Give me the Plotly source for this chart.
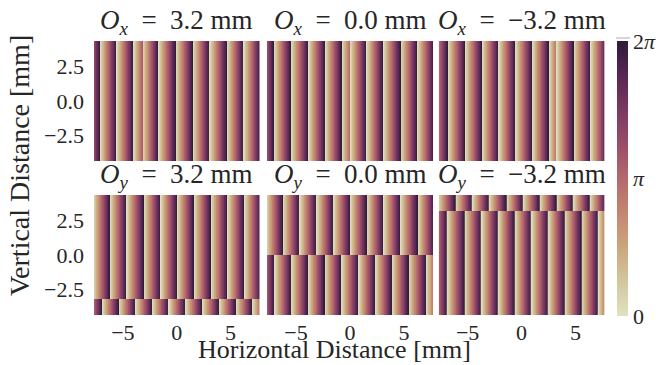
import numpy as np
import plotly.graph_objects as go

# ---------------- data ----------------
x_extent = [-7.68, 7.68]          # mm
y_extent = [-4.32, 4.32]          # mm
offsets = [3.2, 0.0, -3.2]        # O_x (top row) and O_y (bottom row), mm
offset_text = ["3.2", "0.0", "\u22123.2"]

# positions (mm) where the phase wraps 2pi -> 0 (cream stripe starts)
# top row: regions left / right of the split at x = -O_x
wraps_ox_p32_left = [-8.68, -7.12, -5.61, -4.06, -2.51]
wraps_ox_p32_right = [-3.2, -1.74, -0.13, 1.45, 3.00, 4.61, 6.15, 7.71]
wraps_ox_0_left = [-8.61, -7.06, -5.48, -3.87, -2.32, -0.78, 0.77]
wraps_ox_0_right = [0.0, 1.51, 3.06, 4.67, 6.22, 7.77]
wraps_ox_m32_left = [-8.40, -6.84, -5.24, -3.69, -2.15, -0.60, 0.96, 2.50, 4.05]
wraps_ox_m32_right = [3.2, 4.79, 6.35, 7.90]
# bottom row: bands above / below the split at y = -O_y
wraps_oy_p32_upper = [-7.77, -6.22, -4.68, -3.07, -1.52, 0.03, 1.58, 3.16, 4.70, 6.25, 7.80]
wraps_oy_p32_lower = [-8.49, -6.94, -5.39, -3.85, -2.30, -0.75, 0.79, 2.35, 3.93, 5.48, 6.99, 8.54]
wraps_oy_0_upper = [-7.77, -6.22, -4.68, -3.10, -1.55, 0.00, 1.54, 3.09, 4.64, 6.25, 7.80]
wraps_oy_0_lower = [-8.55, -7.00, -5.45, -3.90, -2.36, -0.81, 0.77, 2.32, 3.86, 5.41, 7.02, 8.57]
wraps_oy_m32_upper = [-7.77, -6.14, -4.59, -3.04, -1.43, 0.12, 1.66, 3.21, 4.76, 6.30, 7.85]
wraps_oy_m32_lower = [-8.46, -6.91, -5.30, -3.75, -2.20, -0.66, 0.89, 2.44, 3.98, 5.53, 7.08, 8.63]

x_ticks = [-5, 0, 5]
x_ticktext = ["\u22125", "0", "5"]
y_ticks = [2.5, 0.0, -2.5]
y_ticktext = ["2.5", "0.0", "\u22122.5"]
cbar_ticks = [0, np.pi, 2 * np.pi]
cbar_ticktext = ["0", "<i>\u03c0</i>", "2<i>\u03c0</i>"]

colorscale = [
    [0.00, "rgb(224,226,194)"],
    [0.12, "rgb(210,200,160)"],
    [0.25, "rgb(203,166,125)"],
    [0.38, "rgb(196,132,112)"],
    [0.50, "rgb(180,104,108)"],
    [0.62, "rgb(154,79,104)"],
    [0.75, "rgb(122,57,98)"],
    [0.88, "rgb(86,38,82)"],
    [1.00, "rgb(46,27,58)"],
]

FONT = "Liberation Serif"
TXT = "#262626"
TWO_PI = 2 * np.pi


def ramp(x, wraps):
    w = np.asarray(wraps)
    i = np.clip(np.searchsorted(w, x, side="right") - 1, 0, len(w) - 2)
    return TWO_PI * (x - w[i]) / (w[i + 1] - w[i])


NX = 400
dx = (x_extent[1] - x_extent[0]) / NX
xc = x_extent[0] + dx * (np.arange(NX) + 0.5)

top_sets = [(wraps_ox_p32_left, wraps_ox_p32_right),
            (wraps_ox_0_left, wraps_ox_0_right),
            (wraps_ox_m32_left, wraps_ox_m32_right)]
bot_sets = [(wraps_oy_p32_upper, wraps_oy_p32_lower),
            (wraps_oy_0_upper, wraps_oy_0_lower),
            (wraps_oy_m32_upper, wraps_oy_m32_lower)]

# layout in pixels (margins zero -> paper == whole figure)
W, H = 662, 365
col_px = [(94, 259.5), (267, 433), (438.7, 604.5)]
row_px = [(41, 161), (195, 315)]
title_cy = [22, 176]


def px_x(p):
    return p / W


def px_y(p):
    return (H - p) / H


fig = go.Figure()
annotations = []
for r in range(2):
    for c in range(3):
        k = r * 3 + c + 1
        xa = "x" if k == 1 else f"x{k}"
        ya = "y" if k == 1 else f"y{k}"
        split = -offsets[c]
        if r == 0:
            left, right = top_sets[c]
            row = np.where(xc < split, ramp(xc, left), ramp(xc, right))
            z = row[None, :]
            ye = [y_extent[0], y_extent[1]]
        else:
            upper, lower = bot_sets[c]
            z = np.vstack([ramp(xc, lower), ramp(xc, upper)])
            ye = [y_extent[0], split, y_extent[1]]
        fig.add_trace(go.Heatmap(
            x=xc, y=ye, z=z, zmin=0, zmax=TWO_PI, colorscale=colorscale,
            zsmooth=False, xaxis=xa, yaxis=ya, hoverinfo="skip",
            showscale=(k == 1),
            colorbar=dict(
                x=px_x(617), xanchor="left", xref="paper", xpad=0, ypad=0,
                y=px_y(178.5), yanchor="middle", yref="paper",
                len=(316 - 41) / H, lenmode="fraction",
                thickness=10.5, outlinewidth=0, ticks="",
                tickvals=cbar_ticks, ticktext=cbar_ticktext,
                tickfont=dict(family=FONT, size=22, color=TXT),
                ticklabelposition="outside",
            ),
        ))
        x0, x1 = col_px[c]
        y0, y1 = row_px[r]
        fig.layout[("xaxis" if k == 1 else f"xaxis{k}")] = dict(
            domain=[px_x(x0), px_x(x1)], range=x_extent, anchor=ya,
            showgrid=False, zeroline=False, showline=False, ticks="",
            tickvals=x_ticks, ticktext=x_ticktext, showticklabels=(r == 1),
            tickfont=dict(family=FONT, size=22, color=TXT),
            ticklabelstandoff=2,
        )
        fig.layout[("yaxis" if k == 1 else f"yaxis{k}")] = dict(
            domain=[px_y(y1), px_y(y0)], range=y_extent, anchor=xa,
            showgrid=False, zeroline=False, showline=False, ticks="",
            tickvals=y_ticks, ticktext=y_ticktext, showticklabels=(c == 0),
            tickfont=dict(family=FONT, size=22, color=TXT),
            ticklabelstandoff=9,
        )
        sub = "x" if r == 0 else "y"
        annotations.append(dict(
            text=(f"<i>O</i><sub><i>{sub}</i></sub>\u2002=\u2002"
                  f"{offset_text[c]} mm"),
            x=px_x((x0 + x1) / 2), y=px_y(title_cy[r]),
            xref="paper", yref="paper", xanchor="center", yanchor="middle",
            showarrow=False, font=dict(family=FONT, size=27, color=TXT),
        ))

annotations.append(dict(
    text="Vertical Distance [mm]", x=px_x(19), y=px_y(166),
    xref="paper", yref="paper", xanchor="center", yanchor="middle",
    textangle=-90, showarrow=False,
    font=dict(family=FONT, size=28, color=TXT),
))
annotations.append(dict(
    text="Horizontal Distance [mm]", x=px_x(334), y=px_y(364.5),
    xref="paper", yref="paper", xanchor="center", yanchor="bottom",
    showarrow=False, borderpad=0,
    font=dict(family=FONT, size=26, color=TXT),
))

fig.update_layout(
    width=W, height=H, autosize=False,
    margin=dict(l=0, r=0, t=0, b=0, pad=0),
    paper_bgcolor="white", plot_bgcolor="white",
    showlegend=False, annotations=annotations,
    font=dict(family=FONT, color=TXT),
    shapes=[dict(type="line", xref="paper", yref="paper",
                 x0=px_x(616), x1=px_x(630), y0=px_y(38), y1=px_y(38),
                 line=dict(color="#c8c8c8", width=1.5))],
)

fig.write_html("out.html",
               config={"displayModeBar": False},
               post_script="document.body.style.margin='0px';")
